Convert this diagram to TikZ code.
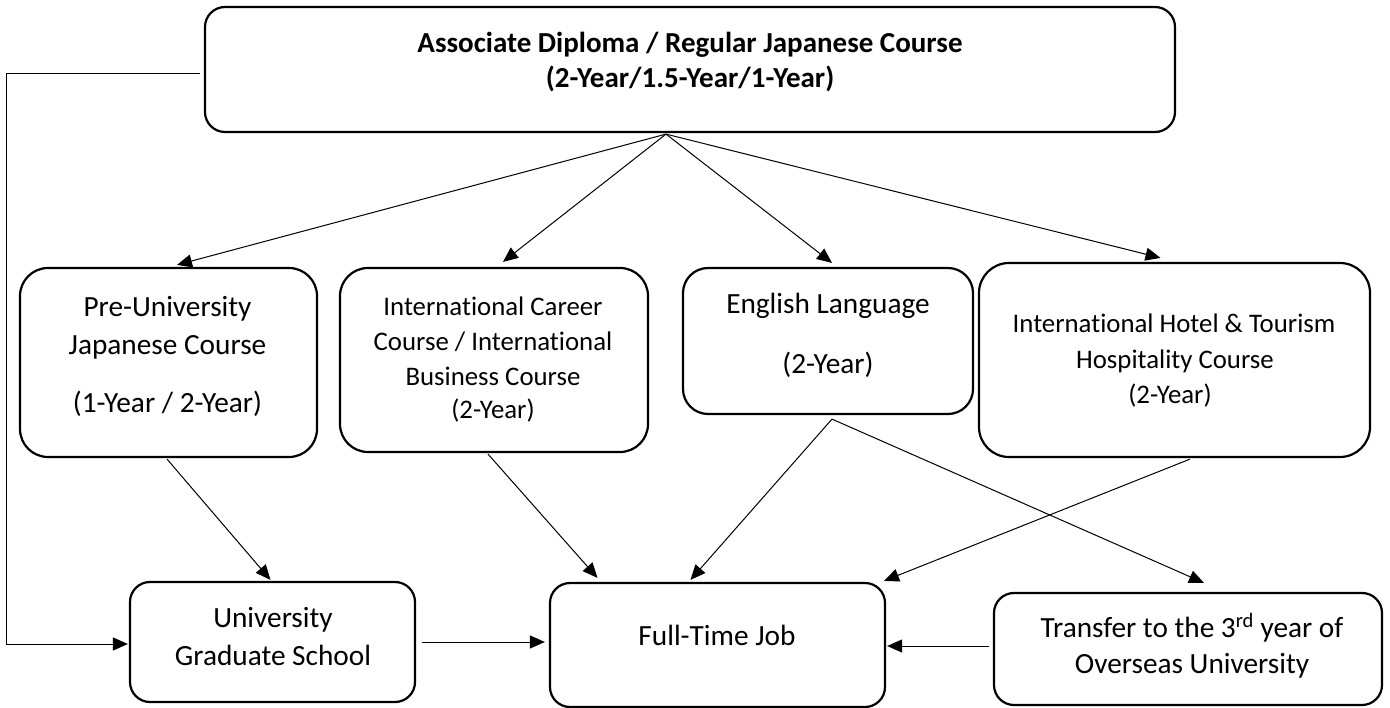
\documentclass[tikz,border=0pt]{standalone}
\usepackage{fontspec}
\setmainfont{Carlito}[Ligatures={NoCommon}]
\usetikzlibrary{arrows.meta,calc}
\tikzset{
  box/.style={draw=black, line width=2.2pt, rounded corners=#1, inner sep=0pt},
  box/.default=22pt,
  arr/.style={draw=black, line width=1pt, -{Triangle[length=15pt,width=13pt]}},
  big/.style={anchor=base, inner sep=0pt, font=\fontsize{29.3}{35}\selectfont},
  small/.style={anchor=base, inner sep=0pt, font=\fontsize{26.8}{32}\selectfont},
  bold/.style={anchor=base, inner sep=0pt, font=\fontsize{29}{35}\selectfont\bfseries},
}
\begin{document}
\begin{tikzpicture}[x=1pt,y=-1pt]
\useasboundingbox (0,0) rectangle (1390,708);
% boxes
\node[box=20pt, minimum width=970pt, minimum height=125pt] (top) at (690,69.5) {};
\node[box=28pt, minimum width=297pt, minimum height=189pt] (pre) at (168.5,362.5) {};
\node[box=28pt, minimum width=308pt, minimum height=184pt] (career) at (494,360) {};
\node[box=25pt, minimum width=290pt, minimum height=146pt] (eng) at (828,341) {};
\node[box=30pt, minimum width=391pt, minimum height=194pt] (hotel) at (1174.5,360) {};
\node[box=20pt, minimum width=285pt, minimum height=120pt] (grad) at (272.5,642) {};
\node[box=20pt, minimum width=335pt, minimum height=124pt] (job) at (717.5,645) {};
\node[box=20pt, minimum width=388pt, minimum height=112pt] (trans) at (1188,649) {};
% texts
\node[bold] (top1) at (690,53) {Associate Diploma / Regular Japanese Course};
\node[bold] (top2) at (690,88) {(2-Year/1.5-Year/1-Year)};
\node[big] (pre1) at (167.5,317) {Pre-University};
\node[big] (pre2) at (167.5,355) {Japanese Course};
\node[big] (pre3) at (167.5,413) {(1-Year / 2-Year)};
\node[small] (car1) at (493,316) {International Career};
\node[small] (car2) at (493,351) {Course / International};
\node[small] (car3) at (493,386) {Business Course};
\node[small] (car4) at (493,419) {(2-Year)};
\node[big] (eng1) at (828,314) {English Language};
\node[big] (eng2) at (828,374) {(2-Year)};
\node[small] (hot1) at (1174,333) {International Hotel \& Tourism};
\node[small] (hot2) at (1175,369) {Hospitality Course};
\node[small] (hot3) at (1170,404) {(2-Year)};
\node[big] (grad1) at (273,627) {University};
\node[big] (grad2) at (273,665) {Graduate School};
\node[big] (job1) at (717,645) {Full-Time Job};
\node[big] (tr1) at (1192,637) {Transfer to the 3\textsuperscript{rd} year of};
\node[big] (tr2) at (1192,673) {Overseas University};
% connectors from top
\coordinate (fan) at ($(top.south)+(-24,1)$);
\draw[arr] (fan) -- ($(pre.north)+(8.5,-2)$);
\draw[arr] (fan) -- ($(career.north)+(9,-5)$);
\draw[arr] (fan) -- ($(eng.north)+(4,-4)$);
\draw[arr] (fan) -- ($(hotel.north)+(-14,-4)$);
\draw[arr] ($(top.west)+(-4,4.5)$) -- ++(-193,0) |- ($(grad.west)+(-1,2)$);
% lower connectors
\draw[arr] ($(pre.south)+(-1.5,1)$) -- ($(grad.north)+(-2,-1)$);
\draw[arr] ($(career.south)+(-6,1)$) -- ($(job.north)+(-120,-4)$);
\coordinate (engout) at ($(eng.south)+(4,4)$);
\draw[arr] (engout) -- ($(job.north)+(-27,-2)$);
\draw[arr] (engout) -- ($(trans.north)+(16,-9)$);
\draw[arr] ($(hotel.south)+(15.5,1)$) -- ($(job.north)+(166.5,-1)$);
\draw[arr] ($(grad.east)+(6,0)$) -- ($(grad.east -| job.west)+(-4,0)$);
\draw[arr] ($(trans.west)+(-4,-3)$) -- ($(trans.west -| job.east)+(1,-3)$);
\end{tikzpicture}
\end{document}
